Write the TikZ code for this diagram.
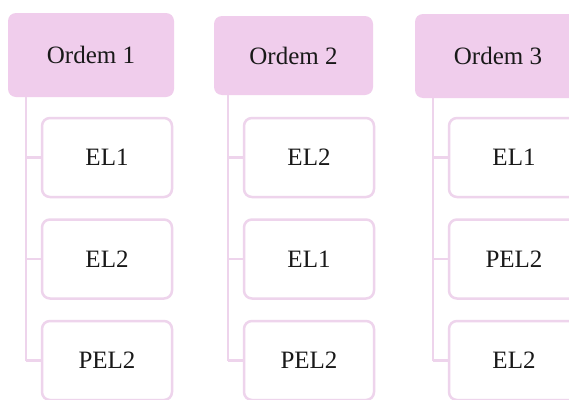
\documentclass[tikz,border=0pt]{standalone}
\usepackage{fontspec}
\setmainfont{Liberation Serif}
\definecolor{headfill}{RGB}{240,205,236}
\definecolor{kidline}{RGB}{238,212,236}
\definecolor{txt}{RGB}{25,25,25}
\begin{document}
\begin{tikzpicture}[x=1pt,y=-1pt,
  head/.style={fill=headfill, rounded corners=8pt, inner sep=0pt, text=txt,
    font=\fontsize{25}{29}\selectfont},
  kid/.style={draw=kidline, line width=2.5pt, rounded corners=8pt, fill=white,
    inner sep=0pt, minimum width=130pt, minimum height=79pt, text=txt,
    font=\fontsize{25}{29}\selectfont},
  conn/.style={draw=kidline, line width=2.2pt}]
\useasboundingbox (0,0) rectangle (569,399);
\clip (0,0) rectangle (569,399);
\fill[white] (0,0) rectangle (569,399);
% column 1
\node[head, minimum width=166pt, minimum height=84pt] (h1) at (91,55) {Ordem 1};
\coordinate (l1) at (26,0);
\node[kid] (c11) at (107,157.5) {EL1};
\node[kid] (c12) at (107,259) {EL2};
\node[kid] (c13) at (107,360.5) {PEL2};
% column 2
\node[head, minimum width=159pt, minimum height=79pt] (h2) at (293.5,55.5) {Ordem 2};
\coordinate (l2) at (228,0);
\node[kid] (c21) at (309,157.5) {EL2};
\node[kid] (c22) at (309,259) {EL1};
\node[kid] (c23) at (309,360.5) {PEL2};
% column 3
\node[head, minimum width=166pt, minimum height=84pt] (h3) at (498,56) {Ordem 3};
\coordinate (l3) at (433,0);
\node[kid] (c31) at (514,157.5) {EL1};
\node[kid] (c32) at (514,259) {PEL2};
\node[kid] (c33) at (514,360.5) {EL2};
% connectors
\foreach \c in {1,2,3}{
  \draw[conn] (h\c.south -| l\c) -- (c\c3.west -| l\c);
  \foreach \r in {1,2,3}{
    \draw[conn] (c\c\r.west -| l\c) -- (c\c\r.west);
  }
}
\end{tikzpicture}
\end{document}
